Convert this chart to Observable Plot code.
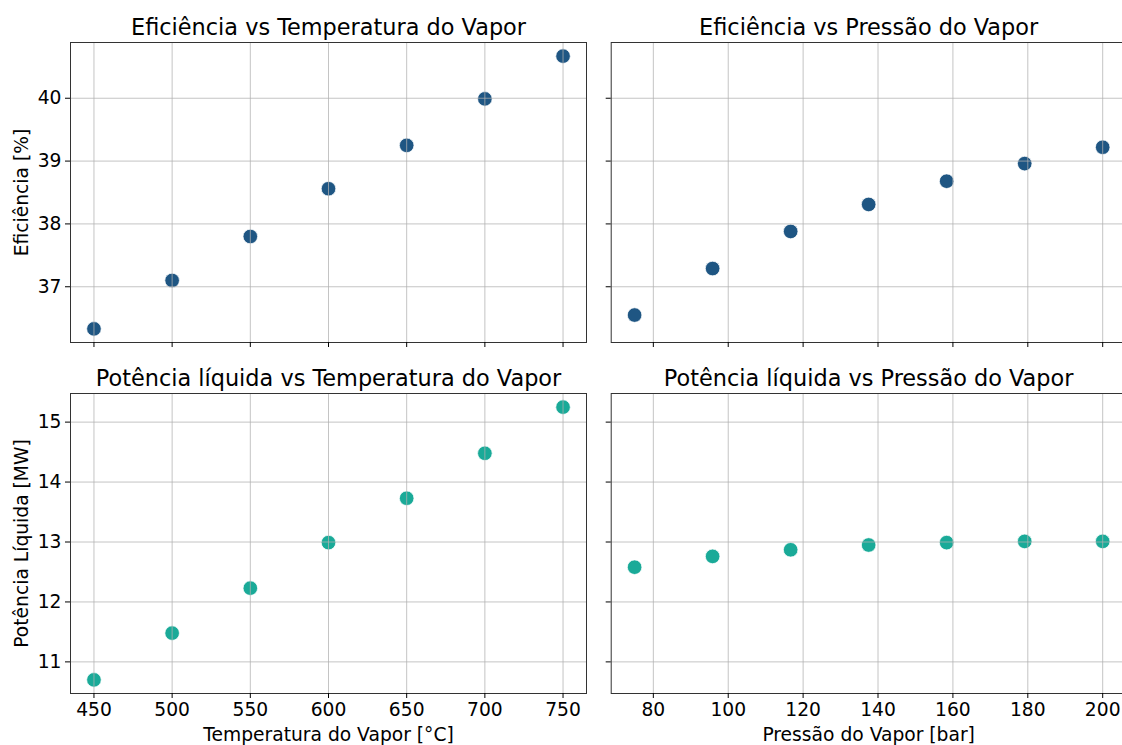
<!DOCTYPE html>
<html>
<head>
<meta charset="utf-8">
<script src="https://cdn.jsdelivr.net/npm/d3@7"></script>
<script src="https://cdn.jsdelivr.net/npm/@observablehq/plot@0.6"></script>
<style>
  html, body { margin: 0; padding: 0; background: white; overflow: hidden; }
  #chart { position: relative; width: 1122px; height: 745px; overflow: hidden; font-family: "DejaVu Sans", sans-serif; }
  #chart svg { position: absolute; max-width: none; overflow: visible; }
</style>
</head>
<body>
<div id="chart"></div>
<script>
// ---- data ----
const temperatura = [450, 500, 550, 600, 650, 700, 750];          // °C
const pressao = [75, 95.83, 116.67, 137.5, 158.33, 179.17, 200];  // bar
const eficienciaT = [36.33, 37.10, 37.80, 38.56, 39.25, 39.99, 40.67];
const eficienciaP = [36.55, 37.29, 37.88, 38.31, 38.68, 38.96, 39.22];
const potenciaT = [10.70, 11.48, 12.23, 12.99, 13.73, 14.48, 15.25];
const potenciaP = [12.58, 12.76, 12.87, 12.95, 12.99, 13.01, 13.01];

const ticksTemperatura = [450, 500, 550, 600, 650, 700, 750];
const ticksPressao = [80, 100, 120, 140, 160, 180, 200];
const ticksEficiencia = [37, 38, 39, 40];
const ticksPotencia = [11, 12, 13, 14, 15];

const titulos = [
  "Eficiência vs Temperatura do Vapor",
  "Eficiência vs Pressão do Vapor",
  "Potência líquida vs Temperatura do Vapor",
  "Potência líquida vs Pressão do Vapor"
];
const rotuloTemperatura = "Temperatura do Vapor [°C]";
const rotuloPressao = "Pressão do Vapor [bar]";
const rotuloEficiencia = "Eficiência [%]";
const rotuloPotencia = "Potência Líquida [MW]";

const corEficiencia = "#1f5683";
const corPotencia = "#1aaa98";

// matplotlib-like 5% margins
function padded(...arrays) {
  const all = arrays.flat();
  const lo = d3.min(all), hi = d3.max(all);
  const m = (hi - lo) * 0.05;
  return [lo - m, hi + m];
}

const domTemp = padded(temperatura);
const domPres = padded(pressao);
const domEf = padded(eficienciaT, eficienciaP);
const domPot = padded(potenciaT, potenciaP);

const container = document.getElementById("chart");
const FS = 18.7, FT = 22.4;

function panel(o) {
  const data = o.xs.map((x, i) => ({x, y: o.ys[i]}));
  const marks = [
    Plot.dot(data, {x: "x", y: "y", r: 7.3, fill: o.color, stroke: "white", strokeWidth: 0.75}),
    Plot.gridX(o.xTicks, {stroke: "#b0b0b0", strokeOpacity: 0.75, strokeWidth: 1}),
    Plot.gridY(o.yTicks, {stroke: "#b0b0b0", strokeOpacity: 0.75, strokeWidth: 1}),
    Plot.frame({stroke: "#333", strokeWidth: 1}),
    Plot.axisX(o.xTicks, {tickSize: 5, tickPadding: 4, label: null, fontSize: FS,
      tickFormat: o.xLabels ? (d => String(d)) : (() => "")}),
    Plot.axisY(o.yTicks, {tickSize: 5, tickPadding: 4, label: null, fontSize: FS,
      tickFormat: o.yLabels ? (d => String(d)) : (() => "")}),
    Plot.text([o.title], {frameAnchor: "top", dy: -15, text: d => d, fontSize: FT, lineAnchor: "middle", textAnchor: "middle", fill: "black"})
  ];
  if (o.xTitle) marks.push(Plot.text([o.xTitle], {frameAnchor: "bottom", dy: 42, text: d => d, fontSize: FS, lineAnchor: "middle", textAnchor: "middle", fill: "black"}));
  if (o.yTitle) marks.push(Plot.text([o.yTitle], {frameAnchor: "left", dx: -48, rotate: -90, text: d => d, fontSize: FS, lineAnchor: "middle", textAnchor: "middle", fill: "black"}));
  const svg = Plot.plot({
    width: o.width, height: o.height,
    marginLeft: o.ml, marginRight: o.mr, marginTop: o.mt, marginBottom: o.mb,
    x: {domain: o.xDomain},
    y: {domain: o.yDomain},
    style: {fontFamily: "DejaVu Sans, sans-serif", fontSize: FS + "px", color: "black", background: "transparent", overflow: "visible"},
    marks
  });
  svg.style.left = o.left + "px";
  svg.style.top = o.top + "px";
  container.appendChild(svg);
}

// top-left
panel({left: 0, top: 0, width: 600, height: 355, ml: 70, mr: 14, mt: 42, mb: 13,
  xs: temperatura, ys: eficienciaT, xDomain: domTemp, yDomain: domEf,
  xTicks: ticksTemperatura, yTicks: ticksEficiencia, color: corEficiencia,
  title: titulos[0], xLabels: false, yLabels: true, yTitle: rotuloEficiencia});
// top-right
panel({left: 600, top: 0, width: 526, height: 355, ml: 10.7, mr: 0.4, mt: 42, mb: 13,
  xs: pressao, ys: eficienciaP, xDomain: domPres, yDomain: domEf,
  xTicks: ticksPressao, yTicks: ticksEficiencia, color: corEficiencia,
  title: titulos[1], xLabels: false, yLabels: false});
// bottom-left
panel({left: 0, top: 355, width: 600, height: 390, ml: 70, mr: 14, mt: 38, mb: 52,
  xs: temperatura, ys: potenciaT, xDomain: domTemp, yDomain: domPot,
  xTicks: ticksTemperatura, yTicks: ticksPotencia, color: corPotencia,
  title: titulos[2], xLabels: true, yLabels: true, xTitle: rotuloTemperatura, yTitle: rotuloPotencia});
// bottom-right
panel({left: 600, top: 355, width: 526, height: 390, ml: 10.7, mr: 0.4, mt: 38, mb: 52,
  xs: pressao, ys: potenciaP, xDomain: domPres, yDomain: domPot,
  xTicks: ticksPressao, yTicks: ticksPotencia, color: corPotencia,
  title: titulos[3], xLabels: true, yLabels: false, xTitle: rotuloPressao});
</script>
</body>
</html>
